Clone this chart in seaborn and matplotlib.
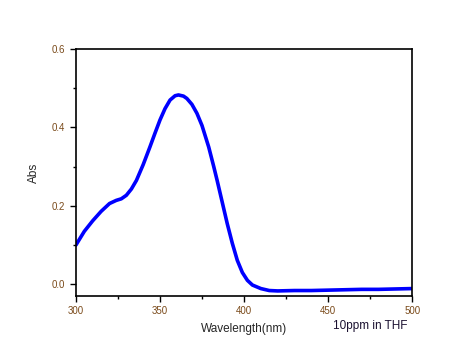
import numpy as np
import pandas as pd
import seaborn as sns
import matplotlib
matplotlib.use("Agg")
import matplotlib.pyplot as plt
from matplotlib.ticker import MultipleLocator

# UV-Vis absorption spectrum
wavelength = [300, 305, 310, 315, 320, 324, 327, 330, 333, 336, 340, 344, 347,
              350, 353, 356, 359, 361, 364, 366, 369, 372, 375, 379, 382, 384,
              387, 390, 393, 396, 399, 402, 405, 410, 415, 420, 430, 440, 450,
              460, 470, 480, 490, 500]
absorbance = [0.100, 0.135, 0.162, 0.186, 0.206, 0.214, 0.218, 0.227, 0.243, 0.265,
              0.305, 0.350, 0.385, 0.419, 0.448, 0.470, 0.481, 0.483, 0.480, 0.474,
              0.459, 0.436, 0.405, 0.350, 0.300, 0.265, 0.210, 0.155, 0.105, 0.061,
              0.030, 0.010, -0.002, -0.011, -0.016, -0.017, -0.016, -0.016, -0.015,
              -0.014, -0.013, -0.013, -0.012, -0.011]

df = pd.DataFrame({"Wavelength": wavelength, "Abs": absorbance})

sns.set_style("ticks")
plt.rcParams['font.family'] = ['Liberation Sans', 'DejaVu Sans']

fig = plt.figure(figsize=(4.6, 3.61), dpi=100)
ax = fig.add_axes([0.165, 0.18, 0.731, 0.684])

sns.lineplot(data=df, x="Wavelength", y="Abs", color="#0000ff", linewidth=2.6, ax=ax)

ax.set_xlim(300, 500)
ax.set_ylim(-0.03, 0.6)
ax.xaxis.set_major_locator(MultipleLocator(50))
ax.xaxis.set_minor_locator(MultipleLocator(25))
ax.yaxis.set_major_locator(MultipleLocator(0.2))
ax.yaxis.set_minor_locator(MultipleLocator(0.1))
ax.set_xticklabels([f"{int(v)}" for v in ax.get_xticks()])
ax.set_yticks([0.0, 0.2, 0.4, 0.6])
ax.set_yticklabels(["0.0", "0.2", "0.4", "0.6"])

for s in ax.spines.values():
    s.set_color("black")
    s.set_linewidth(1.2)
    s.set_visible(True)

ax.tick_params(which="major", direction="out", length=4, width=1, colors="black",
               labelsize=7, labelcolor="#7a4a1a")
ax.tick_params(which="minor", direction="out", length=2.5, width=1, colors="black")

ax.set_xlabel("Wavelength(nm)", fontsize=8.5, labelpad=5)
ax.set_ylabel("Abs", fontsize=8.5, labelpad=9)
fig.text(0.724, 0.088, "10ppm in THF", fontsize=8.5, color="#1a1030")

fig.savefig("out.png", dpi=100)
